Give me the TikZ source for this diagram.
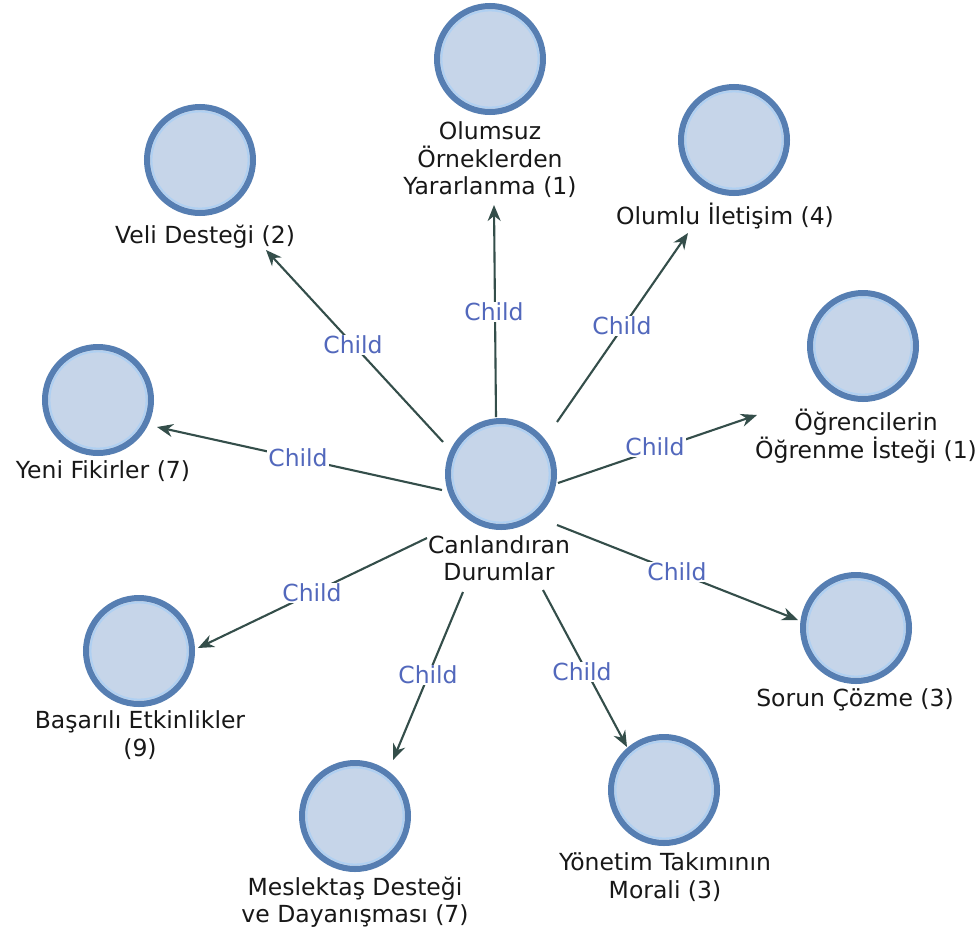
\documentclass[tikz,border=0pt]{standalone}
\usepackage{fontspec}
\setmainfont{DejaVu Sans}
\usetikzlibrary{arrows.meta}
\definecolor{cfill}{RGB}{198,213,233}
\definecolor{cborder}{RGB}{86,126,178}
\definecolor{cring}{RGB}{175,208,242}
\definecolor{edgec}{RGB}{52,78,74}
\definecolor{childc}{RGB}{82,104,188}
\definecolor{txt}{RGB}{24,24,24}
\begin{document}
\begin{tikzpicture}[x=1pt,y=-1pt,
  circ/.style={circle, minimum size=106, inner sep=0, outer sep=0, fill=cfill, draw=cborder, line width=6,
    path picture={\draw[cring, line width=1.8] (path picture bounding box.center) circle (48.5);}},
  lab/.style={align=center, text=txt, font=\fontsize{23.5}{27.5}\selectfont, inner sep=0},
  child/.style={text=childc, font=\fontsize{23.5}{27}\selectfont, fill=white, inner sep=1},
  edge/.style={draw=edgec, line width=2.1, -{Stealth[length=16, width=13]}}]
\useasboundingbox[fill=white] (0,0) rectangle (979,937);
% circles
\node[circ] (c) at (501,474) {};
\node[circ] (olu) at (490,59) {};
\node[circ] (veli) at (200,160) {};
\node[circ] (olm) at (734,140) {};
\node[circ] (yeni) at (98,400) {};
\node[circ] (ogr) at (863,346) {};
\node[circ] (sor) at (856,628) {};
\node[circ] (bas) at (139,651) {};
\node[circ] (mes) at (355,816) {};
\node[circ] (yon) at (664,790) {};
% labels
\node[lab] (tc) at (499,558) {Canlandıran\\Durumlar};
\node[lab] (tolu) at (490,160) {Olumsuz\\Örneklerden\\Yararlanma (1)};
\node[lab] (tveli) at (205,237) {Veli Desteği (2)};
\node[lab] (tolm) at (725,216) {Olumlu İletişim (4)};
\node[lab] (tyeni) at (103,471) {Yeni Fikirler (7)};
\node[lab] (togr) at (866,436) {Öğrencilerin\\Öğrenme İsteği (1)};
\node[lab] (tsor) at (855,700) {Sorun Çözme (3)};
\node[lab] (tbas) at (140,735) {Başarılı Etkinlikler\\(9)};
\node[lab] (tmes) at (355,902) {Meslektaş Desteği\\ve Dayanışması (7)};
\node[lab] (tyon) at (665,877) {Yönetim Takımının\\Morali (3)};
% edges
\draw[edge] ([shift={(-5,-57)}]c.center) -- ([shift={(4,146)}]olu.center);
\draw[edge] ([shift={(-58,-32)}]c.center) -- ([shift={(66,90)}]veli.center);
\draw[edge] ([shift={(56,-52)}]c.center) -- ([shift={(-46,93)}]olm.center);
\draw[edge] ([shift={(-59,16)}]c.center) -- ([shift={(59,27)}]yeni.center);
\draw[edge] ([shift={(57,9)}]c.center) -- ([shift={(-106,69)}]ogr.center);
\draw[edge] ([shift={(56,51)}]c.center) -- ([shift={(-58,-8)}]sor.center);
\draw[edge] ([shift={(-74,64)}]c.center) -- ([shift={(59,-3)}]bas.center);
\draw[edge] ([shift={(-38,118)}]c.center) -- ([shift={(38,-56)}]mes.center);
\draw[edge] ([shift={(42,116)}]c.center) -- ([shift={(-37,-43)}]yon.center);
% edge labels
\node[child] (l1) at (494,312) {Child};
\node[child] (l2) at (353,345) {Child};
\node[child] (l3) at (622,326) {Child};
\node[child] (l4) at (298,458) {Child};
\node[child] (l5) at (655,447) {Child};
\node[child] (l6) at (677,572) {Child};
\node[child] (l7) at (312,593) {Child};
\node[child] (l8) at (428,675) {Child};
\node[child] (l9) at (582,672) {Child};
\end{tikzpicture}
\end{document}
